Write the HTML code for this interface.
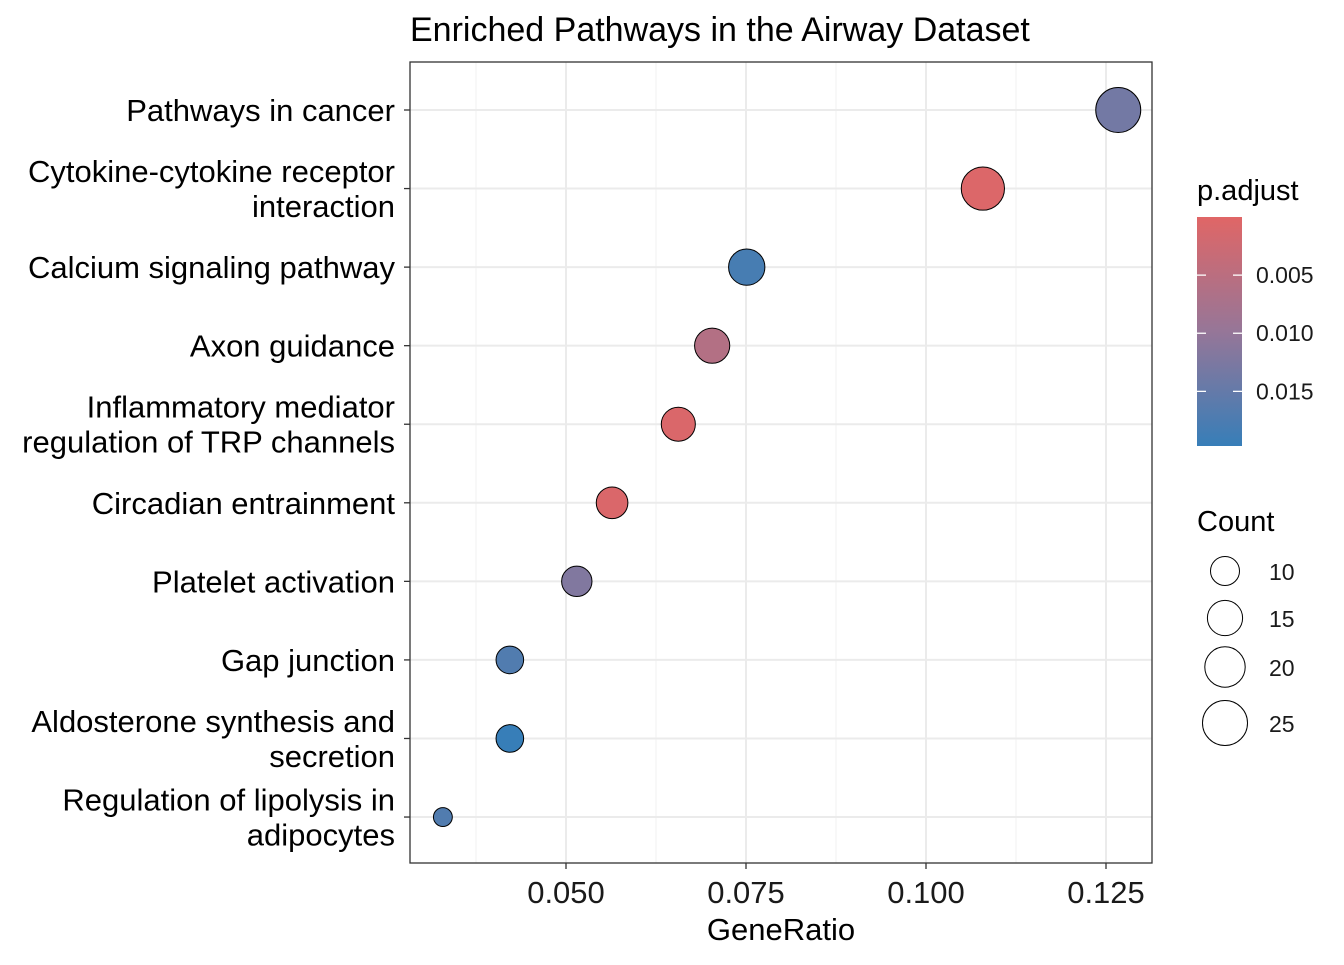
<!DOCTYPE html>
<html><head><meta charset="utf-8"><style>
body{margin:0;background:#fff;}
svg{font-family:"Liberation Sans",Arial,sans-serif;}
</style></head><body>
<svg id="c" width="1344" height="960"></svg>
<script>
const pathways=["Pathways in cancer","Cytokine-cytokine receptor|interaction","Calcium signaling pathway","Axon guidance","Inflammatory mediator|regulation of TRP channels","Circadian entrainment","Platelet activation","Gap junction","Aldosterone synthesis and|secretion","Regulation of lipolysis in|adipocytes"];
const geneRatio=[0.1267,0.1079,0.0751,0.0703,0.0656,0.0564,0.0515,0.0422,0.0422,0.0329];
const counts=[25,23,16,15,14,12,11,9,9,4];
const padj=[0.0135,0.0005,0.018,0.006,0.0008,0.0008,0.012,0.017,0.0197,0.017];
const xTicks=[0.050,0.075,0.100,0.125];
const xTickLabels=["0.050","0.075","0.100","0.125"];
const padjTicks=[0.005,0.010,0.015];
const padjLabels=["0.005","0.010","0.015"];
const countLegend=[10,15,20,25];

const NS="http://www.w3.org/2000/svg";
const svg=document.getElementById('c');
function mk(t,a,p){const e=document.createElementNS(NS,t);for(const k in a)e.setAttribute(k,a[k]);(p||svg).appendChild(e);return e;}
const L=410,R=1152,T=62,B=863;
const x=v=>566+(v-0.05)*7200;
const y=i=>110+i*78.56;
const rad=c=>4.35*Math.sqrt(c)+0.75;
const pMin=0.0,pMax=0.0197;
const cA=[224,102,102],cM=[150,118,152],cB=[55,126,184];
function mix(a,b,t){return a.map((v,i)=>Math.round(v+(b[i]-v)*t));}
function col(p){const t=Math.max(0,Math.min(1,(p-pMin)/(pMax-pMin)));const c=t<0.5?mix(cA,cM,t*2):mix(cM,cB,(t-0.5)*2);return `rgb(${c.join(',')})`;}

const minor=[0.0375,0.0625,0.0875,0.1125];
minor.forEach(v=>{const g=mk('line',{x1:x(v),x2:x(v),y1:T,y2:B,stroke:'#f2f2f2','stroke-width':1});});
xTicks.forEach(v=>{const g=mk('line',{x1:x(v),x2:x(v),y1:T,y2:B,stroke:'#ebebeb','stroke-width':2});});
pathways.forEach((p,i)=>{const g=mk('line',{x1:L,x2:R,y1:y(i),y2:y(i),stroke:'#ebebeb','stroke-width':2});});
const frame=mk('rect',{x:L,y:T,width:R-L,height:B-T,fill:'none',stroke:'#333','stroke-width':1.3});



pathways.forEach((p,i)=>{
  const tk=mk('line',{x1:L-6,x2:L,y1:y(i),y2:y(i),stroke:'#333','stroke-width':1.3});
  
  
  const lines=p.split('|');
  const t=mk('text',{x:395,'text-anchor':'end','font-size':31,fill:'#000'});
  
  
  lines.forEach((ln,j)=>{const s=mk('tspan',{x:395,y:y(i)+11+(j-(lines.length-1)/2)*35},t);s.textContent=ln;});
});
xTicks.forEach((v,i)=>{
  const tk=mk('line',{x1:x(v),x2:x(v),y1:B,y2:B+6,stroke:'#333','stroke-width':1.3});
  
  
  const t=mk('text',{x:x(v),y:903,'text-anchor':'middle','font-size':31,fill:'#1a1a1a'});
  
  
  t.textContent=xTickLabels[i];
});
const xt=mk('text',{x:781,y:940,'text-anchor':'middle','font-size':31,fill:'#000'});


xt.textContent='GeneRatio';
const tt=mk('text',{x:410,y:41,'font-size':34,fill:'#000'});


tt.textContent='Enriched Pathways in the Airway Dataset';

pathways.forEach((p,i)=>{
  const c=mk('circle',{cx:x(geneRatio[i]),cy:y(i),r:rad(counts[i]),fill:col(padj[i]),stroke:'#000','stroke-width':1});
  
  
});

const defs=mk('defs',{});
const lg=mk('linearGradient',{id:'g',x1:0,y1:0,x2:0,y2:1},defs);
mk('stop',{offset:0,'stop-color':col(pMin)},lg);mk('stop',{offset:0.5,'stop-color':col((pMin+pMax)/2)},lg);mk('stop',{offset:1,'stop-color':col(pMax)},lg);
const lt=mk('text',{x:1197,y:200,'font-size':29,fill:'#000'});


lt.textContent='p.adjust';
const gT=217,gB=446,gy=p=>gT+(p-pMin)/(pMax-pMin)*(gB-gT);
const bar=mk('rect',{x:1197,y:gT,width:45,height:gB-gT,fill:'url(#g)'});


padjTicks.forEach((v,i)=>{
  mk('line',{x1:1197,x2:1206,y1:gy(v),y2:gy(v),stroke:'#fff','stroke-width':1.3});
  mk('line',{x1:1233,x2:1242,y1:gy(v),y2:gy(v),stroke:'#fff','stroke-width':1.3});
  const t=mk('text',{x:1256,y:gy(v)+8,'font-size':23,fill:'#1a1a1a'});
  
  
  t.textContent=padjLabels[i];
});
const st=mk('text',{x:1197,y:531,'font-size':29,fill:'#000'});


st.textContent='Count';
const ly=[571,618,667,723];
countLegend.forEach((c,i)=>{
  const ci=mk('circle',{cx:1225,cy:ly[i],r:rad(c),fill:'none',stroke:'#000','stroke-width':1});
  
  
  const t=mk('text',{x:1269,y:ly[i]+9,'font-size':23,fill:'#1a1a1a'});
  
  
  t.textContent=c;
});
</script>
</body></html>
